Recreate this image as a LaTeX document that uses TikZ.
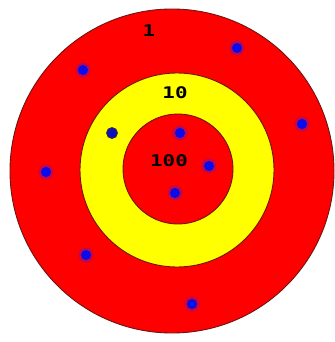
\documentclass[tikz,border=0pt]{standalone}
\usepackage{fontspec}
\newfontfamily\scorefont{DejaVu Sans Mono}
\definecolor{ringred}{RGB}{255,0,0}
\definecolor{ringyellow}{RGB}{255,255,0}
\definecolor{ringedge}{RGB}{110,20,20}
\definecolor{hitblue}{RGB}{10,10,235}
\definecolor{hithalo}{RGB}{90,20,200}
\definecolor{hitdark}{RGB}{15,15,190}
\newcommand{\scoretext}[1]{\scalebox{1.3}[1]{#1}}
\begin{document}
\begin{tikzpicture}[x=1pt,y=-1pt,
  score/.style={font=\scorefont\bfseries\fontsize{16}{16}\selectfont,inner sep=0pt},
  hit/.style={circle,fill=hitblue,minimum size=10pt,inner sep=0pt,
    preaction={fill=hithalo,fill opacity=0.45,draw=hithalo,draw opacity=0.4,line width=5pt}},
  hitplain/.style={circle,fill=hitdark,draw=black!80,line width=0.8pt,minimum size=11pt,inner sep=0pt}]
\useasboundingbox (0,0) rectangle (334,342);
\draw[fill=ringred,draw=ringedge,line width=0.9pt] (172,171) circle (162);
\draw[fill=ringyellow,draw=ringedge,line width=0.9pt] (177,170) circle (97);
\draw[fill=ringred,draw=ringedge,line width=0.9pt] (178,169) circle (55);
\node[score] (s1) at (149,31) {\scoretext{1}};
\node[score] (s10) at (175,93) {\scoretext{10}};
\node[score] (s100) at (169,161) {\scoretext{100}};
\node[hit] (h1) at (237,48) {};
\node[hit] (h2) at (83,70) {};
\node[hit] (h3) at (302,124) {};
\node[hitplain] (h4) at (112,133) {};
\node[hit] (h5) at (180,133) {};
\node[hit] (h6) at (209,166) {};
\node[hit] (h7) at (46,172) {};
\node[hit] (h8) at (175,193) {};
\node[hit] (h9) at (86,255) {};
\node[hit] (h10) at (192,304) {};
\end{tikzpicture}
\end{document}
